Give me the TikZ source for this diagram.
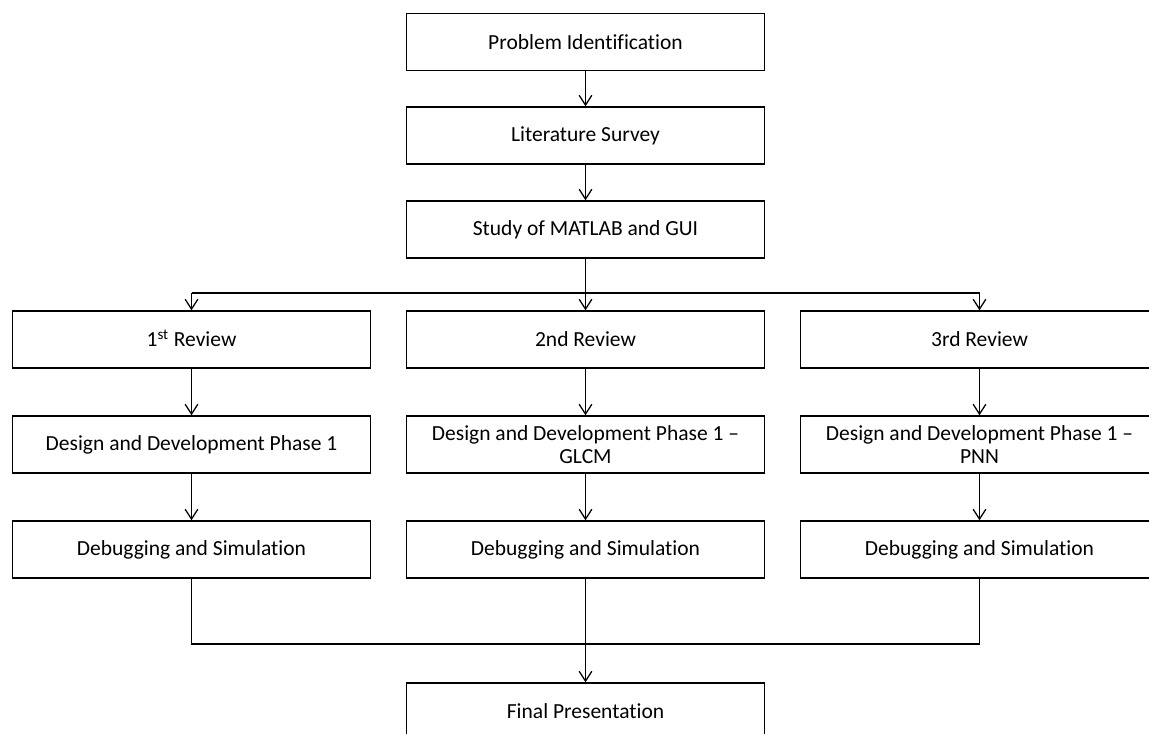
\documentclass[tikz,border=0pt]{standalone}
\usepackage{fontspec}
\setmainfont{Carlito}[Ligatures=CommonOff]
\usetikzlibrary{arrows.meta}

\begin{document}
\begin{tikzpicture}[
        stage/.style={draw, line width=0.9pt, minimum width=8.94cm, minimum height=1.43cm,
            align=center, font=\fontsize{15.3}{16.4}\selectfont},
        >={Straight Barb[length=7pt, width=9pt]}, line width=0.9pt]
        \clip (0, 0) rectangle (28.725, -18.325);
        \path (14.6375, -1.05) node[stage](Problem){Problem Identification};
        \path (14.6375, -3.3875) node[stage](Survey){Literature Survey};
        \path (14.6375, -5.7375) node[stage](Study){Study of MATLAB and GUI};
        \path (4.7875, -8.4875) node[stage](ReviewA){1\smash{\textsuperscript{st}} Review};
        \path (14.6375, -8.4875) node[stage](ReviewB){2nd Review};
        \path (24.4875, -8.4875) node[stage](ReviewC){3rd Review};
        \path (4.7875, -11.1125) node[stage](DesignA){Design and Development Phase 1};
        \path (14.6375, -11.1125) node[stage](DesignB){Design and Development Phase 1 -- \\ GLCM};
        \path (24.4875, -11.1125) node[stage](DesignC){Design and Development Phase 1 -- \\ PNN};
        \path (4.7875, -13.7375) node[stage](DebugA){Debugging and Simulation};
        \path (14.6375, -13.7375) node[stage](DebugB){Debugging and Simulation};
        \path (24.4875, -13.7375) node[stage](DebugC){Debugging and Simulation};
        \path (14.6375, -17.7875) node[stage](Final){Final Presentation};
        \coordinate (Split) at (14.6375, -7.325);
        \coordinate (Join) at (14.6375, -16.1);
        \draw[->] (Problem.south) -- (Survey.north);
        \draw[->] (Survey.south) -- (Study.north);
        \draw[->] (Study.south) -- (ReviewB.north);
        \draw (Split -| ReviewA.north) -- (Split -| ReviewC.north);
        \draw[->] (Split -| ReviewA.north) -- (ReviewA.north);
        \draw[->] (Split -| ReviewC.north) -- (ReviewC.north);
        \draw[->] (ReviewA.south) -- (DesignA.north);
        \draw[->] (ReviewB.south) -- (DesignB.north);
        \draw[->] (ReviewC.south) -- (DesignC.north);
        \draw[->] (DesignA.south) -- (DebugA.north);
        \draw[->] (DesignB.south) -- (DebugB.north);
        \draw[->] (DesignC.south) -- (DebugC.north);
        \draw (DebugA.south) -- (Join -| DebugA.south) -- (Join -| DebugC.south) -- (DebugC.south);
        \draw[->] (DebugB.south) -- (Final.north);
    \end{tikzpicture}
\end{document}
